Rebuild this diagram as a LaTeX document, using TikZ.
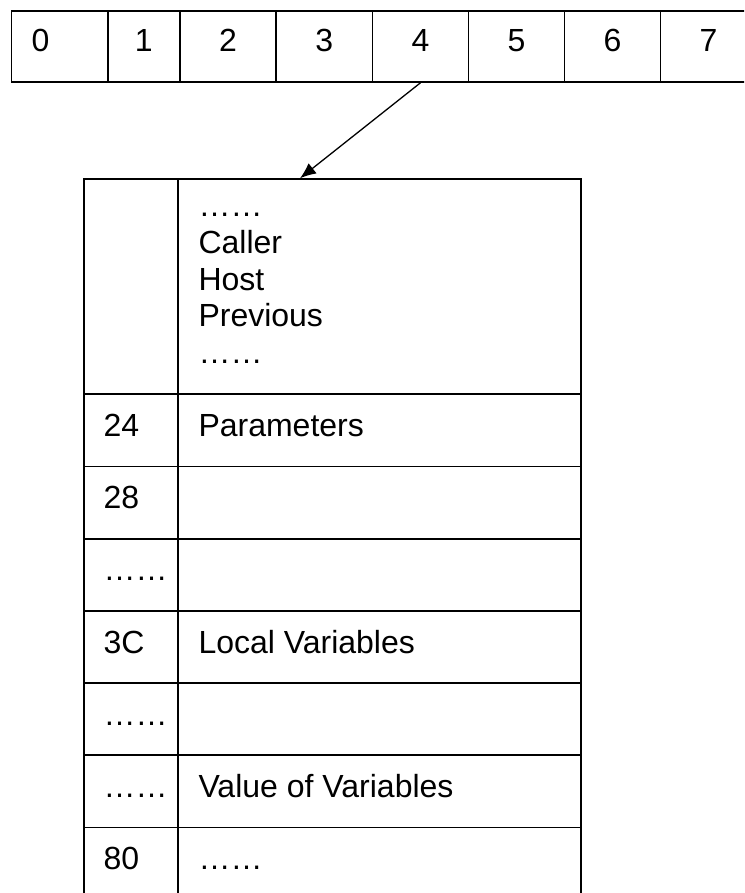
\documentclass[tikz,border=0pt]{standalone}
\usepackage{fontspec}
\setmainfont{Liberation Sans}
\usetikzlibrary{arrows.meta,positioning}
\tikzset{
  slot/.style={draw,line width=1.8pt,inner sep=0pt,anchor=north west},
  entry/.style={inner sep=0pt,font=\fontsize{32}{36.5}\selectfont},
}

\begin{document}
\begin{tikzpicture}[x=1pt,y=-1pt]
  \useasboundingbox (0,0) rectangle (744,893);
  \clip (0,0) rectangle (744,893);

  % register row along the top
  \foreach \i/\x/\w in {
    0/10.5/96.2,
    1/106.7/72.3,
    2/179.0/96.3,
    3/275.3/96.3,
    4/371.6/95.9,
    5/467.5/96.1,
    6/563.6/95.9,
    7/659.5/96.0
  }{
    \node[slot,minimum width=\w pt,minimum height=71pt] (c\i) at (\x,10) {};
  }
  \foreach \i in {1,...,7}{
    \node[entry,anchor=base] (d\i) at (c\i.center |- 0,52) {\i};
  }
  \node[entry,anchor=base west] (d0) at (31.5,52) {0};

  % frame layout below
  \node[slot,minimum width=94.6pt,minimum height=215pt] (hl) at (82.7,178.3) {};
  \node[slot,minimum width=402.7pt,minimum height=215pt] (hr) at (177.3,178.3) {};
  \foreach \t [count=\k from 0] in {……,Caller,Host,Previous,……}{
    \node[entry,anchor=base west] (h\k) at (198.3,217+36.5*\k) {\t};
  }

  \foreach \k/\addr/\what in {
    0/24/Parameters,
    1/28/,
    2/……/,
    3/3C/Local Variables,
    4/……/,
    5/……/Value of Variables,
    6/80/……
  }{
    \node[slot,minimum width=94.6pt,minimum height=72.2pt]
      (a\k) at (82.7,393.3+72.2*\k) {};
    \node[slot,minimum width=402.7pt,minimum height=72.2pt]
      (v\k) at (177.3,393.3+72.2*\k) {};
    \node[entry,anchor=base west] (at\k) at (103.3,436.5+72.2*\k) {\addr};
    \node[entry,anchor=base west] (vt\k) at (198.3,436.5+72.2*\k) {\what};
  }

  \coordinate (link) at (300,178.3);
  \draw[line width=1.3pt,-{Latex[length=16pt,width=13pt]}] (c4.south) -- (link);
\end{tikzpicture}
\end{document}
